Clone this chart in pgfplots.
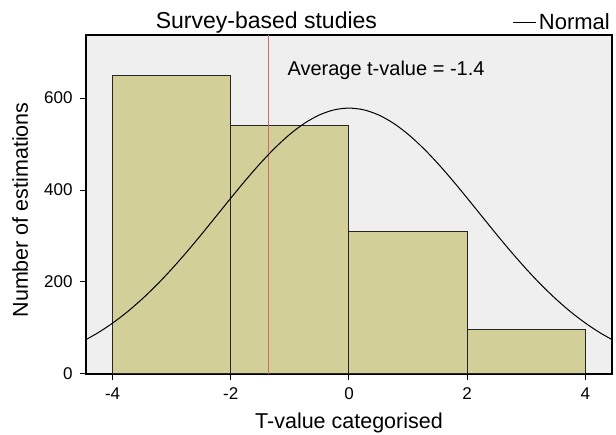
\documentclass[border=0pt]{standalone}
\usepackage{fontspec}
\setmainfont{Liberation Sans}
\usepackage{pgfplots}
\pgfplotsset{compat=1.18}
\definecolor{barfill}{RGB}{211,207,153}
\definecolor{bggray}{RGB}{239,239,239}
\definecolor{redline}{RGB}{196,112,104}
\begin{document}
\begin{tikzpicture}
\path[use as bounding box] (0,0) rectangle (616pt,435pt);
\begin{axis}[
  at={(86pt,61pt)}, anchor=south west,
  scale only axis, width=526pt, height=339pt,
  xmin=-4.45, xmax=4.45, ymin=0, ymax=737,
  axis background/.style={fill=bggray},
  axis line style={line width=1.1pt},
  xtick={-4,-2,0,2,4}, ytick={0,200,400,600},
  tick align=outside, xtick pos=bottom, ytick pos=left,
  major tick length=6pt,
  tick style={line width=1pt, black},
  tick label style={font=\fontsize{17}{19}\selectfont},
  xticklabel style={yshift=-4pt},
  yticklabel style={xshift=-4pt},
  /pgf/number format/assume math mode=true,
  xlabel={T-value categorised},
  ylabel={Number of estimations},
  label style={font=\fontsize{21.5}{25}\selectfont},
  xlabel style={at={(axis description cs:0.5,0)}, anchor=base, yshift=-55pt},
  ylabel style={at={(axis description cs:-0.1103,0.484)}, anchor=base},
  title={Survey-based studies},
  every axis title shift=0pt,
  title style={at={(0.343,1)}, anchor=base, yshift=6pt, font=\fontsize{23}{27}\selectfont},
  legend style={at={(1,1)}, anchor=south east, draw=none, fill=none, inner sep=0pt, yshift=2pt,
    font=\fontsize{22}{26}\selectfont},
  legend image code/.code={\draw[line width=1pt] (0pt,0pt) -- (23pt,0pt);},
]
\addplot[ybar interval, fill=barfill, draw=black!85, line width=1pt, forget plot]
  coordinates {(-4,648) (-2,540) (0,310) (2,97) (4,97)};
\addplot[redline, line width=1.3pt, forget plot] coordinates {(-1.36,0) (-1.36,737)};
\addplot[black, line width=1pt, smooth] coordinates {
(-4.5,71.3) (-4.25,89.4) (-4,110.7) (-3.75,135.2) (-3.5,163.1) (-3.25,194.1)
(-3,228.1) (-2.75,264.6) (-2.5,303.0) (-2.25,342.6) (-2,382.3) (-1.75,421.3)
(-1.5,458.1) (-1.25,491.8) (-1,521.2) (-0.75,545.3) (-0.5,563.2) (-0.25,574.3)
(0,578) (0.25,574.3) (0.5,563.2) (0.75,545.3) (1,521.2) (1.25,491.8)
(1.5,458.1) (1.75,421.3) (2,382.3) (2.25,342.6) (2.5,303.0) (2.75,264.6)
(3,228.1) (3.25,194.1) (3.5,163.1) (3.75,135.2) (4,110.7) (4.25,89.4) (4.5,71.3)};
\addlegendentry{Normal}
\node[anchor=base west, font=\fontsize{20}{24}\selectfont] at (axis cs:-1.10,648) {Average t-value = -1.4};
\end{axis}
\end{tikzpicture}
\end{document}
